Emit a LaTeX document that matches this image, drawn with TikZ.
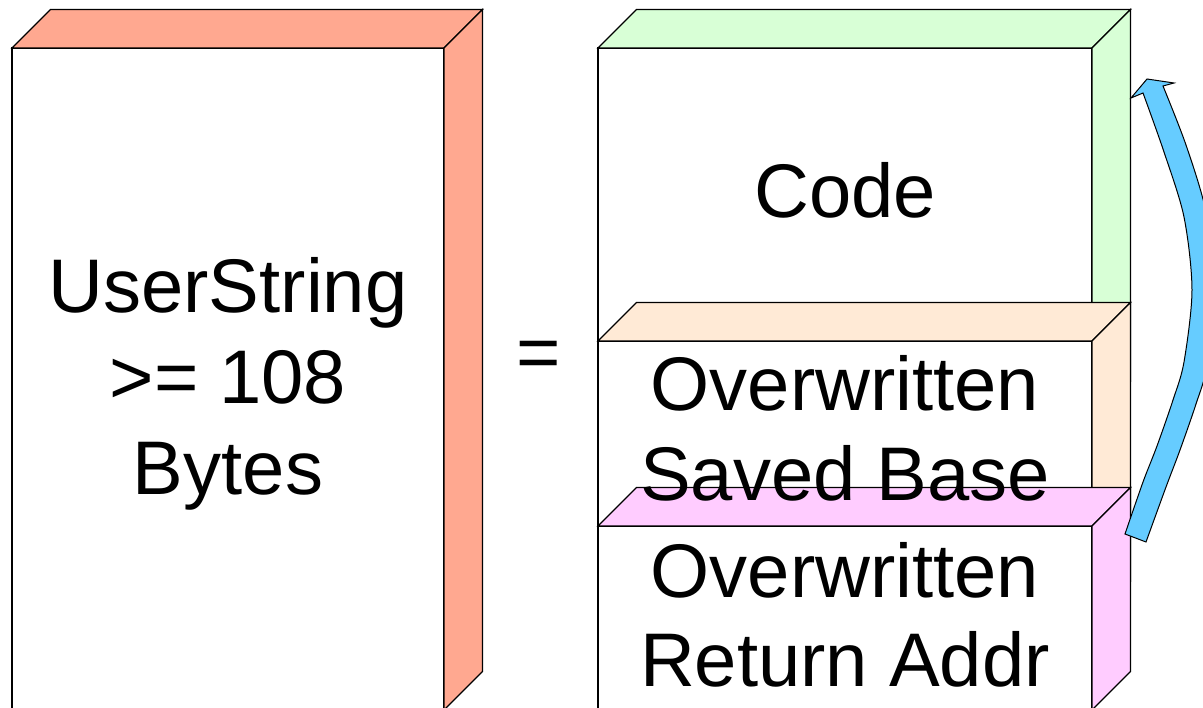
\documentclass[tikz,border=0pt]{standalone}
\usepackage{fontspec}
\setmainfont{Liberation Sans}
\definecolor{salmon}{RGB}{255,168,144}
\definecolor{codegreen}{RGB}{216,255,214}
\definecolor{basepeach}{RGB}{255,234,214}
\definecolor{retpink}{RGB}{255,204,255}
\definecolor{jumpblue}{RGB}{102,204,255}
\tikzset{
  edge/.style={draw=black, line width=1.1pt, line join=miter},
  label/.style={inner sep=0pt, anchor=base, font=\fontsize{76}{91}\selectfont},
}
% a box seen slightly from above and right: front face, top face and right side
\newcommand\slab[6]{% x1, x2, ytop, ybottom, colour, depth
  \fill[white] (#1,#3) rectangle (#2,#4);
  \draw[edge] (#1,#3) rectangle (#2,#4);
  \filldraw[edge, fill=#5] (#1,#3) -- ++(#6,-#6) -- (#2+#6,#3-#6) -- (#2,#3) -- cycle;
  \filldraw[edge, fill=#5] (#2,#3) -- (#2+#6,#3-#6) -- (#2+#6,#4-#6) -- (#2,#4) -- cycle;
}
\begin{document}
\begin{tikzpicture}[x=1pt, y=-1pt]
  \useasboundingbox (0,0) rectangle (1203,708);
  \clip (0,0) rectangle (1203,708);

  % the whole user string
  \slab{12}{444}{48}{710}{salmon}{38.5}

  % its parts, stacked
  \slab{598}{1092}{48}{420}{codegreen}{38.5}
  \slab{598}{1092}{341}{620}{basepeach}{38.5}
  \slab{598}{1092}{526}{710}{retpink}{38.5}

  % jump from the return address back into the code
  \filldraw[edge, line width=1pt, fill=jumpblue]
    plot[smooth, tension=0.5] coordinates {(1125,534) (1143,482) (1157,446) (1173,400) (1184,362) (1192,290) (1184,217) (1164,152) (1143,93)}
    -- (1131,98) -- (1147,79) -- (1174,83) -- (1163,86)
    -- plot[smooth, tension=0.5] coordinates {(1163,86) (1186,145) (1206,212) (1215,290) (1207,366) (1196,404) (1180,450) (1166,487) (1146,542)}
    -- cycle;

  % labels
  \node[label] (us1) at (228,313) {UserString};
  \node[label] (us2) at (228,404) {>= 108};
  \node[label] (us3) at (228,495) {Bytes};
  \node[label] (eq)  at (539,379) {=};
  \node[label] (code) at (845,218) {Code};
  \node[label] (ow1) at (845,411) {Overwritten};
  \node[label] (sb)  at (845,501) {Saved Base};
  \node[label] (ow2) at (845,597) {Overwritten};
  \node[label] (ra)  at (845,686) {Return Addr};
\end{tikzpicture}
\end{document}
